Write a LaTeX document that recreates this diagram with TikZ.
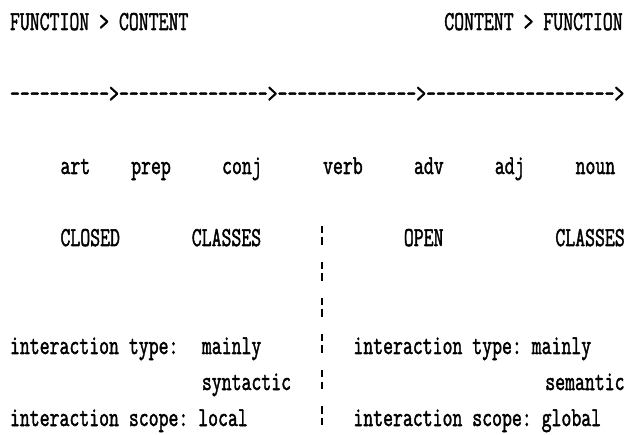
\documentclass[tikz,border=0pt]{standalone}
\usepackage{fontspec}
\usepackage{graphicx}
\setmonofont{Latin Modern Mono}[FakeBold=2]
% tall, narrow printer glyphs
\newcommand\tallglyphs[1]{\scalebox{1}[1.42]{#1}}
\tikzset{
  typed/.style={anchor=base west, inner sep=0pt, outer sep=0pt,
    font=\ttfamily\fontsize{19.24}{22}\selectfont},
  tick/.style={line width=1.4pt, line cap=butt},
}
\begin{document}
\begin{tikzpicture}[x=1pt, y=-1pt]
\fill[white] (0,0) rectangle (637,435);
\useasboundingbox (0,0) rectangle (637,435);

% text lines sit on a 36pt grid: baseline of line n = 30 + 36n
% line 0: direction labels
\node[typed] (fc) at (10,30) {\tallglyphs{FUNCTION > CONTENT}};
\node[typed] (cf) at (444.3,30) {\tallglyphs{CONTENT > FUNCTION}};

% line 2: the scale
\node[typed] (scale) at (10,102) {\tallglyphs{---------->--------------->-------------->------------------->}};

% line 4: word classes
\node[typed] (art)  at (60.5,174)  {\tallglyphs{art}};
\node[typed] (prep) at (131.2,174) {\tallglyphs{prep}};
\node[typed] (conj) at (222.1,174) {\tallglyphs{conj}};
\node[typed] (verb) at (323.1,174) {\tallglyphs{verb}};
\node[typed] (adv)  at (414,174)   {\tallglyphs{adv}};
\node[typed] (adj)  at (494.8,174) {\tallglyphs{adj}};
\node[typed] (noun) at (575.6,174) {\tallglyphs{noun}};

% line 6: class headings
\node[typed] (closed)  at (60.5,246)  {\tallglyphs{CLOSED}};
\node[typed] (classL)  at (191.8,246) {\tallglyphs{CLASSES}};
\node[typed] (open)    at (403.9,246) {\tallglyphs{OPEN}};
\node[typed] (classR)  at (555.4,246) {\tallglyphs{CLASSES}};

% lines 9-11: interaction properties
\node[typed] (typeL)   at (10,354)    {\tallglyphs{interaction type:}};
\node[typed] (mainlyL) at (201.9,354) {\tallglyphs{mainly}};
\node[typed] (syn)     at (201.9,390) {\tallglyphs{syntactic}};
\node[typed] (scopeL)  at (10,426)    {\tallglyphs{interaction scope: local}};
\node[typed] (typeR)   at (353.4,354) {\tallglyphs{interaction type: mainly}};
\node[typed] (sem)     at (545.3,390) {\tallglyphs{semantic}};
\node[typed] (scopeR)  at (353.4,426) {\tallglyphs{interaction scope: global}};

% broken-bar divider, one bar per text line 6-11
\foreach \n in {6,...,11}{
  \pgfmathsetmacro\b{30+36*\n}
  \draw[tick] (322,\b-20) -- (322,\b-12.5);
  \draw[tick] (322,\b-8.5) -- (322,\b-1);
}
\end{tikzpicture}
\end{document}
